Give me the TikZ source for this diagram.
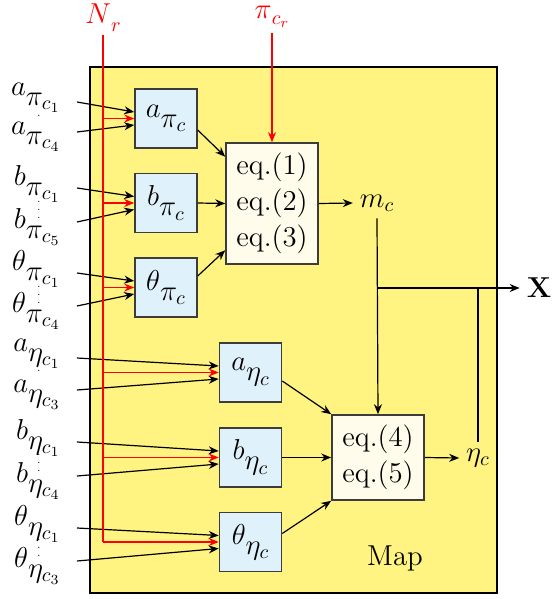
\documentclass[tikz,border=0pt]{standalone}
\usepackage{amsmath}
\usepackage{tikz}
\usetikzlibrary{arrows.meta,positioning,calc}
\definecolor{mapyellow}{HTML}{FFF382}
\definecolor{parblue}{HTML}{DFF1FA}
\definecolor{eqcream}{HTML}{FFFCEB}
\definecolor{boxline}{HTML}{3C3C3C}
\newcommand{\tsub}[2]{#1\lower5pt\hbox{$#2$}}

\begin{document}
\begin{tikzpicture}[
  x=0.5pt, y=-0.5pt,
  font=\Large,
  parbox/.style={draw=boxline, thick, fill=parblue, minimum width=31pt,
                 minimum height=29.5pt, inner sep=1pt},
  eqbox/.style={draw=boxline, thick, fill=eqcream, align=center,
                minimum width=46pt, inner sep=2pt},
  lbl/.style={anchor=east, inner xsep=8pt, inner ysep=0pt},
  arr/.style={-{Stealth[length=5pt,width=4pt]}, semithick},
  redarr/.style={-{Stealth[length=5pt,width=4pt]}, semithick, draw=red},
  dotlbl/.style={inner sep=0pt, font=\tiny}
]
\useasboundingbox (0,0) rectangle (552,599);
% background of the map
\draw[thick, fill=mapyellow] (90,67) rectangle (497,593);
\node (maplbl) at (395,558) {Map};

% parameter boxes
\node[parbox] (apibox) at (166,118.5) {$\tsub{a}{\pi_c}$};
\node[parbox] (bpibox) at (166,203) {$\tsub{b}{\pi_c}$};
\node[parbox] (tpibox) at (166,287.5) {$\tsub{\theta}{\pi_c}$};
\node[parbox] (aetabox) at (250.5,372.5) {$\tsub{a}{\eta_c}$};
\node[parbox] (betabox) at (250.5,457.5) {$\tsub{b}{\eta_c}$};
\node[parbox] (tetabox) at (250.5,542) {$\tsub{\theta}{\eta_c}$};

% equation boxes
\node[eqbox, minimum height=60.5pt] (eqa) at (272,203.5) {eq.(1)\\eq.(2)\\eq.(3)};
\node[eqbox, minimum height=42.5pt] (eqb) at (378,457.5) {eq.(4)\\eq.(5)};

% outputs
\node (mc) at (377,203) {$m_c$};
\node (etac) at (478,458) {$\eta_c$};
\node (xout) at (539,288) {$\mathbf{X}$};

% red inputs
\node[text=red, inner sep=1pt, anchor=north] (nr) at (103,1) {$N\lower4pt\hbox{$\scriptstyle r$}$};
\node[text=red, inner sep=1pt, anchor=north] (pcr) at (272,4) {$\pi\lower3pt\hbox{$\scriptstyle c_r$}$};
\coordinate (nrtop) at (103,35);
\coordinate (pcrtop) at (272,33);

% left labels
\node[lbl] (apc1) at (77,98) {$\tsub{a}{\pi_{c_1}}$};
\node[lbl] (apc4) at (77,137) {$\tsub{a}{\pi_{c_4}}$};
\node[lbl] (bpc1) at (77,184) {$\tsub{b}{\pi_{c_1}}$};
\node[lbl] (bpc5) at (77,227) {$\tsub{b}{\pi_{c_5}}$};
\node[lbl] (tpc1) at (77,269) {$\tsub{\theta}{\pi_{c_1}}$};
\node[lbl] (tpc4) at (77,311) {$\tsub{\theta}{\pi_{c_4}}$};
\node[lbl] (aec1) at (77,354) {$\tsub{a}{\eta_{c_1}}$};
\node[lbl] (aec3) at (77,395) {$\tsub{a}{\eta_{c_3}}$};
\node[lbl] (bec1) at (77,438) {$\tsub{b}{\eta_{c_1}}$};
\node[lbl] (bec4) at (77,481) {$\tsub{b}{\eta_{c_4}}$};
\node[lbl] (tec1) at (77,524) {$\tsub{\theta}{\eta_{c_1}}$};
\node[lbl] (tec3) at (77,566) {$\tsub{\theta}{\eta_{c_3}}$};

% dots between the labels
\node[dotlbl] (adotpi) at (39,116) {.};
\node[dotlbl] (bdotpi) at (39,204) {$\vdots$};
\node[dotlbl] (tdotpi) at (39,289) {$\vdots$};
\node[dotlbl] (adoteta) at (39,371) {.};
\node[dotlbl] (bdoteta) at (39,457) {$\vdots$};
\node[dotlbl] (tdoteta) at (39,542) {$\vdots$};

% label arrows
\foreach \up/\dn/\bx in {apc1/apc4/apibox, bpc1/bpc5/bpibox, tpc1/tpc4/tpibox,
                          aec1/aec3/aetabox, bec1/bec4/betabox, tec1/tec3/tetabox}{
  \draw[arr] ($(\up.east)+(0,4)$) -- ($(\bx.west)+(0,-6.5)$);
  \draw[arr] ($(\dn.east)+(0,-5)$) -- ($(\bx.west)+(0,6.5)$);
}

% N_r distribution
\coordinate (nrbot) at (nrtop |- tetabox.west);
\draw[red, semithick] (nrtop) -- (nrbot);
\foreach \bx in {apibox, bpibox, tpibox, aetabox, betabox, tetabox}
  \draw[redarr] (nrtop |- \bx.west) -- (\bx.west);
\draw[redarr] (pcrtop) -- (eqa.north);

% into the equations
\draw[arr] (apibox.-20) -- (eqa.135);
\draw[arr] (bpibox.east) -- (eqa.west);
\draw[arr] (tpibox.20) -- (eqa.225);
\draw[arr] (aetabox.-15) -- (eqb.north west);
\draw[arr] (betabox.east) -- (eqb.west);
\draw[arr] (tetabox.15) -- (eqb.south west);

% outputs
\draw[arr] (eqa.east) -- (mc.west);
\draw[arr] (mc.south) -- (eqb.north);
\draw[arr] (eqb.east) -- (etac.west);
\coordinate (xjoin) at (mc.south |- xout.west);
\draw[arr] (xjoin) -- (xout.west);
\draw[semithick] (etac.north) -- (etac.north |- xout.west);
\end{tikzpicture}
\end{document}
